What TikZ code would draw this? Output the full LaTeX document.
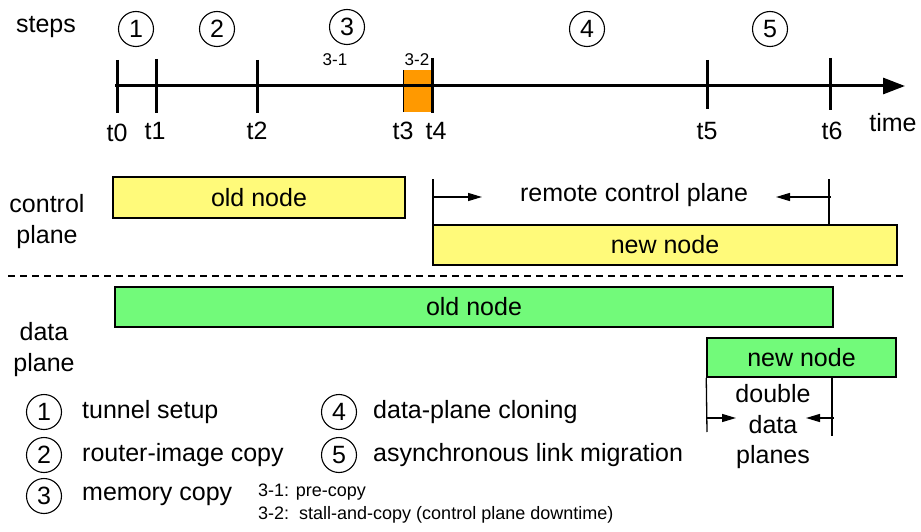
\documentclass[tikz,border=0pt]{standalone}
\usepackage{fontspec}
\setmainfont{Liberation Sans}
\usetikzlibrary{arrows.meta}
\definecolor{cyellow}{RGB}{255,250,122}
\definecolor{cgreen}{RGB}{114,250,122}
\definecolor{corange}{RGB}{255,153,0}
\begin{document}
\begin{tikzpicture}[x=1pt,y=-1pt,
  lbl/.style={font=\fontsize{25}{31}\selectfont, inner sep=0pt, align=center},
  small/.style={font=\fontsize{18}{21}\selectfont, inner sep=0pt, anchor=west},
  tiny/.style={font=\fontsize{17}{20}\selectfont, inner sep=0pt},
  stepc/.style={circle, draw, line width=1.1pt, minimum size=35pt, inner sep=0pt, font=\fontsize{25}{28}\selectfont},
  tick/.style={line width=3pt},
  ybox/.style={draw, line width=1.5pt, fill=cyellow, inner sep=0pt, font=\fontsize{25}{28}\selectfont},
  gbox/.style={draw, line width=1.5pt, fill=cgreen, inner sep=0pt, font=\fontsize{25}{28}\selectfont},
  dim/.style={line width=1.3pt},
  dimarrow/.style={line width=1.3pt, -{Triangle[length=14pt,width=8pt]}},
]
\useasboundingbox (0,0) rectangle (921,532);

% header
\node[lbl] (steps) at (46,27) {steps};
\node[stepc] (s1) at (136,29) {1};
\node[stepc] (s2) at (217,29) {2};
\node[stepc] (s3) at (347,27) {3};
\node[stepc] (s4) at (587,29) {4};
\node[stepc] (s5) at (770,29) {5};

% timeline
\fill[corange] (403,70) rectangle (431,112);
\draw[line width=1pt] (403,70) -- (403,112);
\coordinate (tstart) at (115,86);
\coordinate (tend) at (905,86);
\draw[line width=3pt, -{Triangle[length=22pt,width=16pt]}] (tstart) -- (tend);
\draw[tick] (117,60) -- (117,113);
\draw[tick] (156,59) -- (156,113);
\draw[tick] (257,60) -- (257,113);
\draw[tick] (432,58) -- (432,113);
\draw[tick] (707,60) -- (707,109);
\draw[tick] (830,58) -- (830,110);
\node[tiny] (l31) at (335,60) {3-1};
\node[tiny] (l32) at (417,60) {3-2};
\node[lbl] (t0) at (117,133) {t0};
\node[lbl] (t1) at (155,131) {t1};
\node[lbl] (t2) at (257,131) {t2};
\node[lbl] (t3) at (403,131) {t3};
\node[lbl] (t4) at (436,131) {t4};
\node[lbl] (t5) at (707,131) {t5};
\node[lbl] (t6) at (832,131) {t6};
\node[lbl] (time) at (893,123) {time};

% control plane
\node[lbl] (cp) at (47,222) {control\\plane};
\node[ybox, minimum width=292pt, minimum height=41pt] (cold) at (259,197.5) {old node};
\node[ybox, minimum width=464pt, minimum height=40pt] (cnew) at (665,245) {new node};
\node[lbl] (rcp) at (634,195) {remote control plane};
\coordinate (rl) at (433,179);
\coordinate (rr) at (829,179);
\draw[dim] (rl) -- (rl |- cnew.north);
\draw[dim] (rr) -- (rr |- cnew.north);
\draw[dimarrow] (433,197) -- (482,197);
\draw[dimarrow] (831,197) -- (776,197);

% separator
\draw[line width=1.1pt, dash pattern=on 7pt off 5pt] (8,276) -- (906,276);

% data plane
\node[lbl] (dp) at (44,350) {data\\plane};
\node[gbox, minimum width=718pt, minimum height=40pt] (dold) at (474,307) {old node};
\node[gbox, minimum width=189pt, minimum height=39pt] (dnew) at (801.5,357.5) {new node};
\node[lbl, font=\fontsize{25}{30.5}\selectfont] (ddp) at (773,427) {double\\data\\planes};
\coordinate (dl) at (707,432);
\coordinate (dr) at (832,436);
\draw[dim] (dnew.south west) -- (dl);
\draw[dim] (dr |- dnew.south) -- (dr);
\draw[dimarrow] (707,418) -- (736,418);
\draw[dimarrow] (834,418) -- (806,418);

% legend
\node[stepc] (k1) at (44,412) {1};
\node[stepc] (k2) at (44,455) {2};
\node[stepc] (k3) at (44,496) {3};
\node[stepc] (k4) at (339,412) {4};
\node[stepc] (k5) at (339,455) {5};
\node[lbl, anchor=west] (d1) at (82,412) {tunnel setup};
\node[lbl, anchor=west] (d2) at (82,455) {router-image copy};
\node[lbl, anchor=west] (d3) at (82,496) {memory copy};
\node[lbl, anchor=west] (d4) at (373,412) {data-plane cloning};
\node[lbl, anchor=west] (d5) at (373,455) {asynchronous link migration};
\node[small] (n31) at (258,492) {3-1: pre-copy};
\node[small] (n32) at (258,515) {3-2:\ \ stall-and-copy (control plane downtime)};
\end{tikzpicture}
\end{document}
